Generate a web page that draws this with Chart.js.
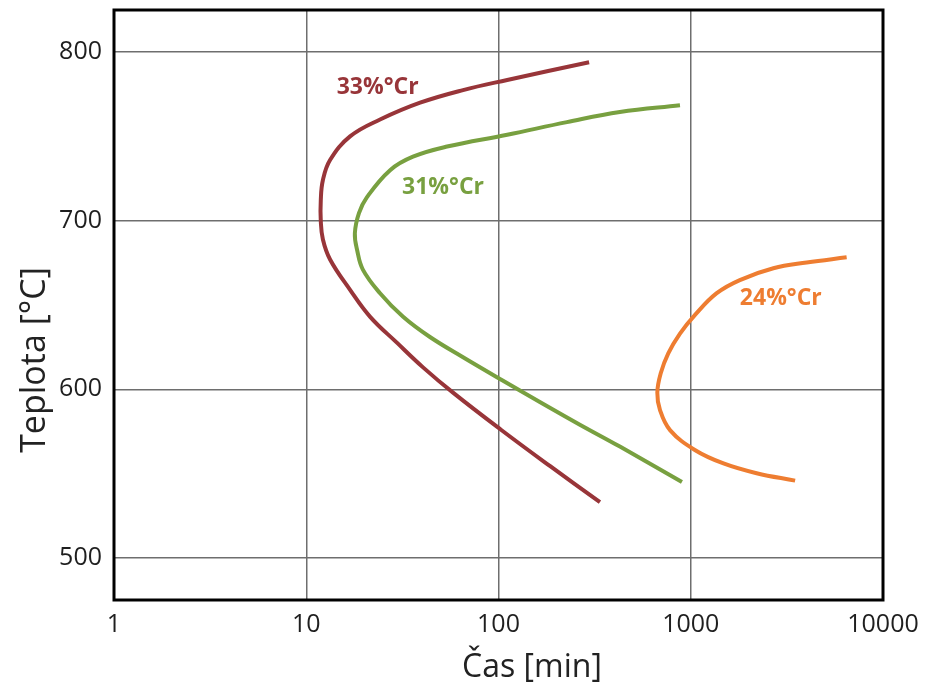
<!DOCTYPE html>
<html>
<head>
<meta charset="utf-8">
<title>Čas – Teplota</title>
<script src="https://cdn.jsdelivr.net/npm/chart.js@4"></script>
<style>
  body { margin: 0; background: #fff; }
  #wrap { width: 929px; height: 691px; }
</style>
</head>
<body>
<div id="wrap"><canvas id="chart" width="929" height="691"></canvas></div>
<script>
// Time in minutes, temperature in °C
const cr33Time = [296, 111, 65.4, 39.1, 24.2, 16.9, 13.3, 12.2, 11.9, 11.9, 12.2, 13.3, 16.9, 21.5, 29.7, 40.5, 58.0, 103, 185, 337];
const cr33Temp = [794, 783.5, 777.5, 770, 760, 750, 736, 724, 712, 700, 689, 677, 659, 643, 627.5, 613, 598, 576, 554.5, 533];

const cr31Time = [879, 428, 227, 111, 54, 35.9, 27.3, 20.7, 18.8, 17.9, 18.4, 19.7, 24.2, 31.9, 44, 65.4, 104, 164, 265, 428, 900];
const cr31Temp = [768.5, 764.5, 758.5, 751, 744, 738, 730, 714, 704.5, 692.5, 682.5, 671, 657, 643, 631, 619, 605.5, 592.5, 579, 566, 545];

const cr24Time = [6470, 4010, 2690, 1800, 1365, 1050, 879, 764, 698, 670, 692, 780, 1050, 1480, 2200, 3490];
const cr24Temp = [678.3, 675.2, 671.8, 664.8, 657, 644, 633, 621.3, 609.5, 598, 587.7, 575.8, 564, 556, 550.2, 545.8];

const timeTicks = [1, 10, 100, 1000, 10000];
const tempTicks = [500, 600, 700, 800];

const curveNames = ['33%°Cr', '31%°Cr', '24%°Cr'];
const curveColors = ['#983539', '#78a040', '#ee7d31'];
// where each curve name is written (time, temperature)
const nameTime = [14.4, 31.5, 1800];
const nameTemp = [779, 719.5, 654];

function toPoints(xs, ys) {
  return xs.map((x, i) => ({ x: x, y: ys[i] }));
}

function curve(i, xs, ys) {
  return {
    label: curveNames[i],
    data: toPoints(xs, ys),
    showLine: true,
    borderColor: curveColors[i],
    borderWidth: 4,
    pointRadius: 0,
    tension: 0.4,
    fill: false
  };
}

// Frame, axis titles and curve names
const decorPlugin = {
  id: 'decor',
  afterDatasetsDraw(chart) {
    const ctx = chart.ctx;
    const a = chart.chartArea;
    const sx = chart.scales.x;
    const sy = chart.scales.y;
    ctx.save();

    ctx.font = 'bold 23px "Open Sans"';
    ctx.textBaseline = 'middle';
    ctx.textAlign = 'left';
    curveNames.forEach((name, i) => {
      ctx.fillStyle = curveColors[i];
      ctx.fillText(name, sx.getPixelForValue(nameTime[i]), sy.getPixelForValue(nameTemp[i]));
    });

    ctx.strokeStyle = '#000';
    ctx.lineWidth = 3;
    ctx.strokeRect(a.left, a.top, a.right - a.left, a.bottom - a.top);

    ctx.fillStyle = '#222';
    ctx.font = '32px "Open Sans"';
    ctx.textAlign = 'center';
    ctx.fillText('Čas [min]', a.left + 418, a.bottom + 68);
    ctx.font = '34px "Open Sans"';
    ctx.translate(35, a.top + 350);
    ctx.rotate(-Math.PI / 2);
    ctx.fillText('Teplota [°C]', 0, 0);
    ctx.restore();
  }
};

const tickFont = { family: '"Open Sans"', size: 25, lineHeight: 1 };

new Chart(document.getElementById('chart'), {
  type: 'scatter',
  data: {
    datasets: [
      curve(0, cr33Time, cr33Temp),
      curve(1, cr31Time, cr31Temp),
      curve(2, cr24Time, cr24Temp)
    ]
  },
  options: {
    responsive: false,
    animation: false,
    devicePixelRatio: 1,
    layout: { padding: { top: 10, right: 46, left: 0, bottom: 0 } },
    plugins: {
      legend: { display: false },
      tooltip: { enabled: false }
    },
    scales: {
      x: {
        type: 'logarithmic',
        min: 1,
        max: 10000,
        afterBuildTicks: s => { s.ticks = timeTicks.map(v => ({ value: v })); },
        afterFit: s => { s.height = 91; s.paddingLeft = 0; s.paddingRight = 0; },
        grid: { color: '#6e6e6e', lineWidth: 1.5, drawTicks: false },
        border: { display: false },
        ticks: {
          padding: 12,
          color: '#1f1f1f',
          font: tickFont,
          autoSkip: false,
          maxRotation: 0,
          callback: v => String(v)
        }
      },
      y: {
        type: 'linear',
        min: 475,
        max: 825,
        afterBuildTicks: s => { s.ticks = tempTicks.map(v => ({ value: v })); },
        afterFit: s => { s.width = 114; s.paddingTop = 0; s.paddingBottom = 0; },
        grid: { color: '#6e6e6e', lineWidth: 1.5, drawTicks: false },
        border: { display: false },
        ticks: {
          padding: 12,
          color: '#1f1f1f',
          font: tickFont,
          callback: v => String(v)
        }
      }
    }
  },
  plugins: [decorPlugin]
});
</script>
</body>
</html>
